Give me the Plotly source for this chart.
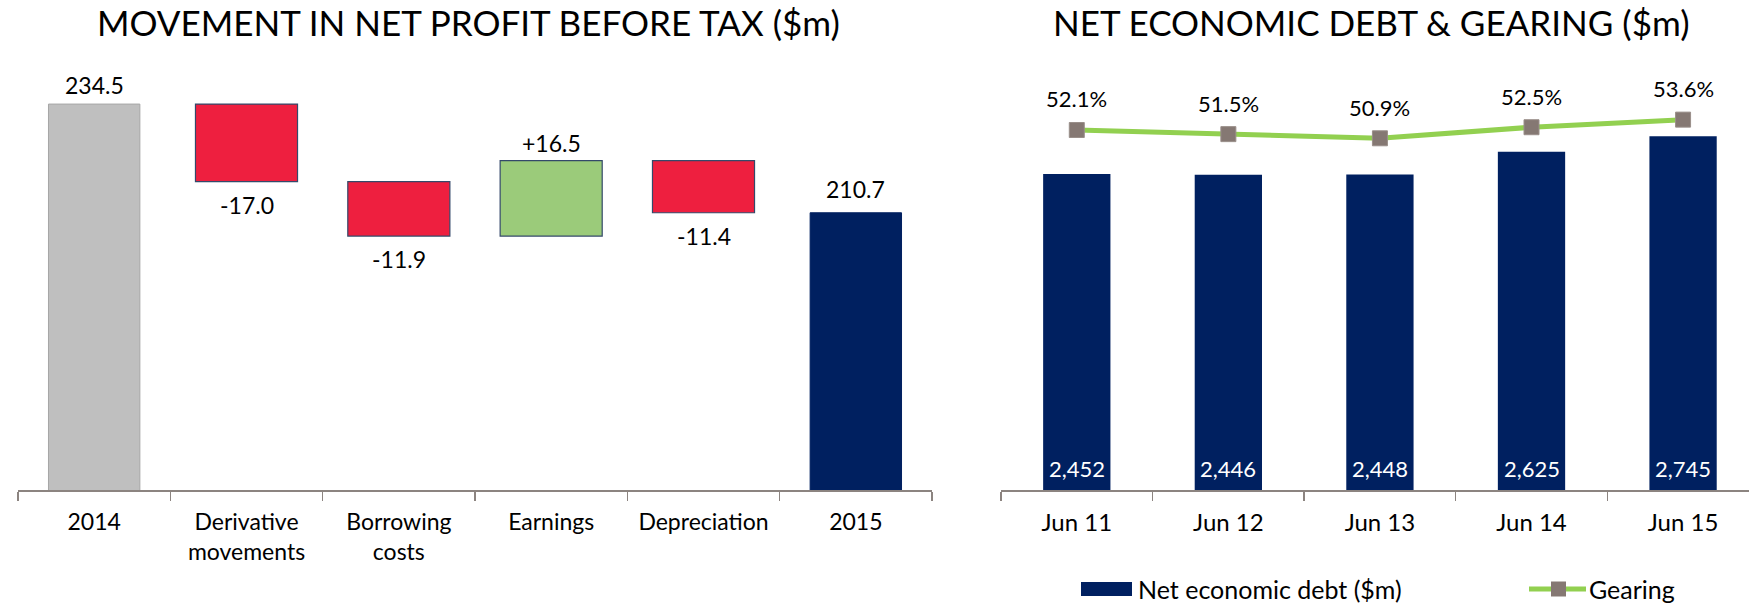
import plotly.graph_objects as go

# ---------------- data ----------------
wf_categories = ["2014", "Derivative<br>movements", "Borrowing<br>costs", "Earnings", "Depreciation", "2015"]
wf_start = 234.5
wf_changes = [-17.0, -11.9, 16.5, -11.4]
wf_end = 210.7

debt_categories = ["Jun 11", "Jun 12", "Jun 13", "Jun 14", "Jun 15"]
net_debt = [2452, 2446, 2448, 2625, 2745]
gearing = [52.1, 51.5, 50.9, 52.5, 53.6]

# ---------------- styles ----------------
FONT = "Lato"
GREY = "#BFBFBF"
RED = "#EE1F3F"
GREEN = "#9BCB7A"
NAVY = "#002060"
LINE_GREEN = "#92D050"
MARKER = "#857873"
AXIS = "#8C8480"

W, H = 1749, 604
def px(x):
    return x / W
def py(y):
    return 1 - y / H

fig = go.Figure()

n_wf = len(wf_categories)
# waterfall: end bars
fig.add_trace(go.Bar(
    x=[wf_categories[0], wf_categories[-1]], y=[wf_start, wf_end],
    marker=dict(color=[GREY, NAVY], line=dict(color=["#A6A6A6", NAVY], width=1)),
    width=0.6, xaxis="x", yaxis="y", showlegend=False, hoverinfo="skip"))

# floating bars
levels = [wf_start]
for c in wf_changes:
    levels.append(levels[-1] + c)
bases = [min(levels[i], levels[i + 1]) for i in range(len(wf_changes))]
heights = [abs(c) for c in wf_changes]
colors = [GREEN if c > 0 else RED for c in wf_changes]
fig.add_trace(go.Bar(
    x=wf_categories[1:-1], y=heights, base=bases,
    marker=dict(color=colors, line=dict(color="#34496A", width=1.2)),
    width=0.67, xaxis="x", yaxis="y", showlegend=False, hoverinfo="skip"))

annotations = []
lab_font = dict(family=FONT, size=23, color="#000000")
annotations.append(dict(x=0, y=wf_start, xref="x", yref="y", text=f"{wf_start:.1f}",
                        showarrow=False, yanchor="middle", yshift=19, font=lab_font))
annotations.append(dict(x=n_wf - 1, y=wf_end, xref="x", yref="y", text=f"{wf_end:.1f}",
                        showarrow=False, yanchor="middle", yshift=24, font=lab_font))
for i, c in enumerate(wf_changes):
    if c > 0:
        yv, sh, txt = bases[i] + heights[i], 18, f"+{c:.1f}"
    else:
        yv, sh, txt = bases[i], -23, f"{c:.1f}"
    annotations.append(dict(x=i + 1, y=yv, xref="x", yref="y", text=txt,
                            showarrow=False, yanchor="middle", yshift=sh, font=lab_font))

# net debt bars
fig.add_trace(go.Bar(
    x=debt_categories, y=net_debt, marker=dict(color=NAVY, line=dict(width=0)),
    width=0.444, xaxis="x2", yaxis="y2", name="Net economic debt ($m)", showlegend=False,
    hoverinfo="skip"))
for i, v in enumerate(net_debt):
    annotations.append(dict(x=i, y=0, xref="x2", yref="y2", text=f"{v:,}", showarrow=False,
                            yanchor="middle", yshift=22,
                            font=dict(family=FONT, size=22, color="#FFFFFF")))

# gearing line
fig.add_trace(go.Scatter(
    x=debt_categories, y=gearing, mode="lines+markers",
    line=dict(color=LINE_GREEN, width=5),
    marker=dict(symbol="square", size=15, color=MARKER, line=dict(color="#9A8F8A", width=1)),
    xaxis="x2", yaxis="y3", name="Gearing", showlegend=False, hoverinfo="skip"))
for i, g in enumerate(gearing):
    annotations.append(dict(x=i, y=g, xref="x2", yref="y3", text=f"{g:.1f}%", showarrow=False,
                            yanchor="middle", yshift=31,
                            font=dict(family=FONT, size=22, color="#000000")))

# titles
title_font = dict(family=FONT, size=35, color="#000000")
annotations.append(dict(x=px(468), y=py(22), xref="paper", yref="paper", showarrow=False,
                        text="MOVEMENT IN NET PROFIT BEFORE TAX ($m)", font=title_font,
                        xanchor="center", yanchor="middle"))
annotations.append(dict(x=px(1371), y=py(22), xref="paper", yref="paper", showarrow=False,
                        text="NET ECONOMIC DEBT &amp; GEARING ($m)", font=title_font,
                        xanchor="center", yanchor="middle"))

# custom legend
leg_font = dict(family=FONT, size=25, color="#000000")
LEG_Y = 589
shapes = [
    dict(type="rect", xref="paper", yref="paper", x0=px(1081), x1=px(1132), y0=py(LEG_Y + 7),
         y1=py(LEG_Y - 7), fillcolor=NAVY, line=dict(width=0)),
    dict(type="line", xref="paper", yref="paper", x0=px(1529), x1=px(1586), y0=py(LEG_Y),
         y1=py(LEG_Y), line=dict(color=LINE_GREEN, width=5)),
    dict(type="rect", xref="paper", yref="paper", x0=px(1551), x1=px(1566), y0=py(LEG_Y + 7.5),
         y1=py(LEG_Y - 7.5), fillcolor=MARKER, line=dict(width=0)),
]
annotations.append(dict(x=px(1136), y=py(LEG_Y), xref="paper", yref="paper", showarrow=False,
                        text="Net economic debt ($m)", font=leg_font, xanchor="left",
                        yanchor="middle"))
annotations.append(dict(x=px(1587), y=py(LEG_Y), xref="paper", yref="paper", showarrow=False,
                        text="Gearing", font=leg_font, xanchor="left", yanchor="middle"))

ydom = [py(490), py(60)]
xaxis_common = dict(type="category", showline=True, linecolor=AXIS, linewidth=2, ticks="outside",
                    tickson="boundaries", ticklen=9, tickcolor=AXIS, tickwidth=1.5,
                    ticklabelstandoff=10, showgrid=False, zeroline=False, fixedrange=True)

fig.update_layout(
    width=W, height=H, margin=dict(l=0, r=0, t=0, b=0),
    paper_bgcolor="white", plot_bgcolor="white",
    barmode="overlay", showlegend=False,
    font=dict(family=FONT, color="#000000"),
    xaxis=dict(domain=[px(18), px(932)], range=[-0.5, 5.5], anchor="y",
               categoryorder="array", categoryarray=wf_categories,
               tickfont=dict(family=FONT, size=23, color="#000000"), **xaxis_common),
    yaxis=dict(domain=ydom, range=[150, 244.15], visible=False, anchor="x", showgrid=False),
    xaxis2=dict(domain=[px(1001), 1.0], range=[-0.5, 4.435], anchor="y2",
                categoryorder="array", categoryarray=debt_categories,
                tickfont=dict(family=FONT, size=24, color="#000000"), **xaxis_common),
    yaxis2=dict(domain=ydom, range=[0, 3336], visible=False, anchor="x2", showgrid=False),
    yaxis3=dict(domain=ydom, range=[0, 62.23], visible=False, anchor="x2", overlaying="y2",
                showgrid=False),
    annotations=annotations, shapes=shapes,
)

fig.write_html("out.html", config={"displayModeBar": False, "staticPlot": True},
               post_script="document.body.style.margin='0';"
               "document.body.style.overflow='hidden';")
